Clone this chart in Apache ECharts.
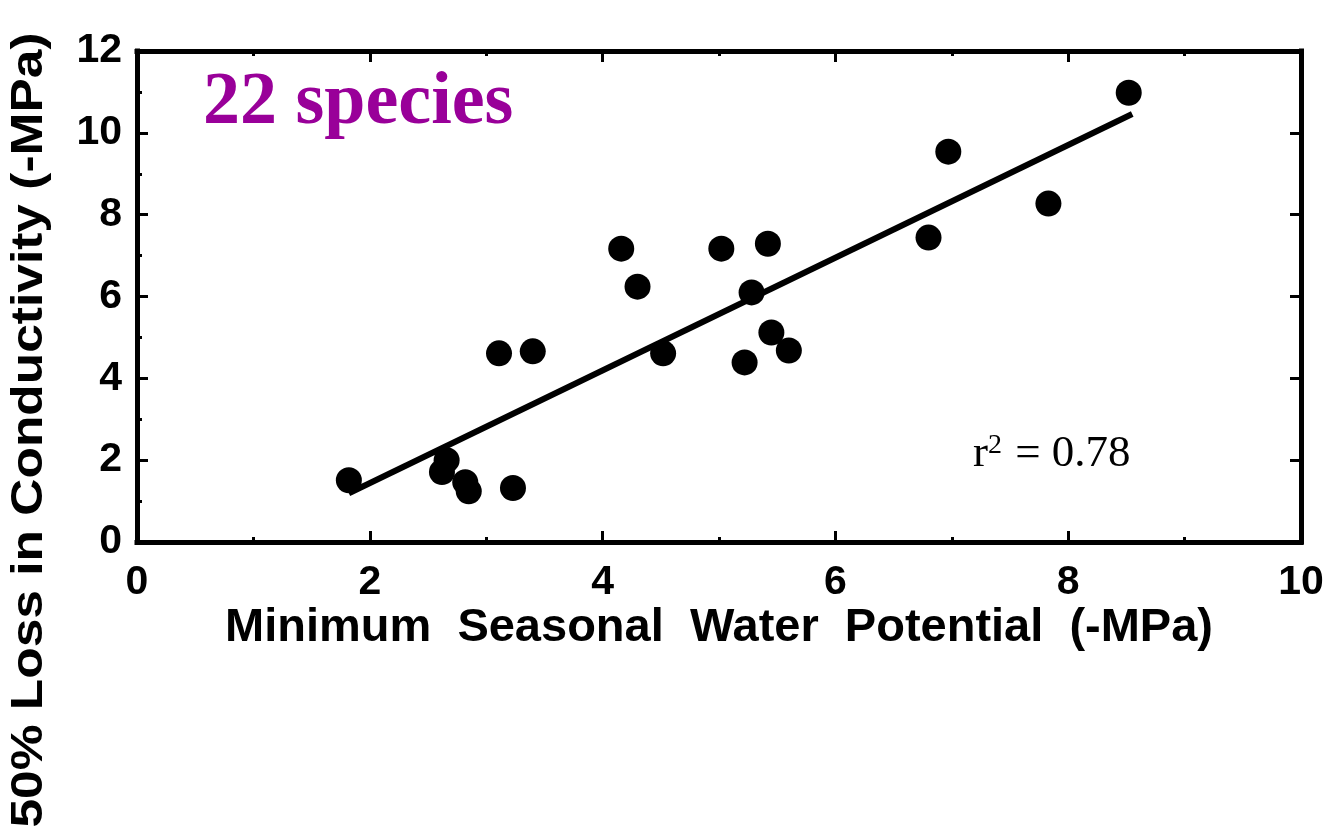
<!DOCTYPE html>
<html>
<head>
<meta charset="utf-8">
<title>Minimum Seasonal Water Potential vs 50% Loss in Conductivity</title>
<script src="https://cdn.jsdelivr.net/npm/echarts@6/dist/echarts.min.js"></script>
<style>
  html, body { margin: 0; padding: 0; background: #ffffff; }
  #chart { width: 1336px; height: 836px; }
</style>
</head>
<body>
<div id="chart"></div>
<script>
// Minimum seasonal water potential (-MPa) for each species
const waterPotential = [1.82, 2.62, 2.66, 2.82, 2.85, 3.23, 3.11, 3.40, 4.52, 5.22, 5.45,
                        5.60, 4.16, 4.30, 5.02, 5.42, 5.28, 8.52, 6.97, 7.83, 6.80];
// Water potential at 50% loss in conductivity (-MPa)
const conductivityLoss = [1.51, 1.71, 2.00, 1.46, 1.24, 1.32, 4.61, 4.66, 4.61, 4.39, 5.12,
                          4.68, 7.17, 6.24, 7.17, 7.29, 6.10, 10.98, 9.54, 8.27, 7.44];
// Ends of the fitted regression line
const fitX = [1.82, 8.55];
const fitY = [1.19, 10.46];

const xTitle = 'Minimum  Seasonal  Water  Potential  (-MPa)';
const yTitle = '50% Loss in Conductivity (-MPa)';
const speciesLabel = '22 species';
const rSquared = '0.78';

const points = waterPotential.map((x, i) => [x, conductivityLoss[i]]);
const fitLine = fitX.map((x, i) => [x, fitY[i]]);

const sans = '"Liberation Sans", Arial, sans-serif';
const serif = '"Liberation Serif", "Times New Roman", serif';
const black = '#000000';

function frameAxis(extra) {
  return Object.assign({
    type: 'value',
    axisLine: { show: true, onZero: false, lineStyle: { color: black, width: 5, cap: 'square' } },
    axisTick: { show: true, inside: true, length: 11, lineStyle: { color: black, width: 3 } },
    minorTick: { show: true, splitNumber: 2, length: 5, lineStyle: { color: black, width: 3 } },
    splitLine: { show: false },
    axisLabel: { show: false }
  }, extra);
}

const chart = echarts.init(document.getElementById('chart'), null, { renderer: 'canvas' });

chart.setOption({
  backgroundColor: '#ffffff',
  animation: false,
  grid: { left: 137, right: 35, top: 51, bottom: 294, containLabel: false },
  xAxis: [
    frameAxis({
      position: 'bottom', min: 0, max: 10, interval: 2,
      axisLabel: { show: true, margin: 20, color: black, fontFamily: sans, fontWeight: 'bold', fontSize: 41 }
    }),
    frameAxis({ position: 'top', min: 0, max: 10, interval: 2 })
  ],
  yAxis: [
    frameAxis({
      position: 'left', min: 0, max: 12, interval: 2,
      axisLabel: { show: true, margin: 15, color: black, fontFamily: sans, fontWeight: 'bold', fontSize: 41 }
    }),
    frameAxis({
      position: 'right', min: 0, max: 12, interval: 2,
      minorTick: { show: true, splitNumber: 2, length: 2, lineStyle: { color: black, width: 2 } }
    })
  ],
  series: [
    {
      type: 'line',
      data: fitLine,
      symbol: 'none',
      lineStyle: { color: black, width: 6 },
      z: 2,
      silent: true
    },
    {
      type: 'scatter',
      data: points,
      symbol: 'circle',
      symbolSize: 26,
      itemStyle: { color: black, opacity: 1 },
      clip: false,
      z: 3
    }
  ],
  graphic: [
    {
      type: 'text',
      x: 719, y: 628,
      style: {
        text: xTitle, font: 'bold 47px ' + sans, fill: black,
        align: 'center', verticalAlign: 'middle'
      }
    },
    {
      type: 'text',
      x: 30, y: 430,
      rotation: Math.PI / 2,
      scaleX: 1.17,
      style: {
        text: yTitle, font: 'bold 44px ' + sans, fill: black,
        align: 'center', verticalAlign: 'middle'
      }
    },
    {
      type: 'text',
      x: 203, y: 104,
      style: {
        text: speciesLabel, font: 'bold 74px ' + serif, fill: '#990099',
        align: 'left', verticalAlign: 'middle'
      }
    },
    {
      type: 'text',
      x: 973, y: 454,
      style: {
        text: '{r|r}{s|2}{v| = ' + rSquared + '}',
        align: 'left', verticalAlign: 'middle',
        rich: {
          r: { font: '45px ' + serif, fill: black, verticalAlign: 'bottom', lineHeight: 46 },
          s: { font: '28px ' + serif, fill: black, verticalAlign: 'top', lineHeight: 46, padding: [1, 2, 0, 0] },
          v: { font: '45px ' + serif, fill: black, verticalAlign: 'bottom', lineHeight: 46 }
        }
      }
    }
  ]
});
</script>
</body>
</html>
